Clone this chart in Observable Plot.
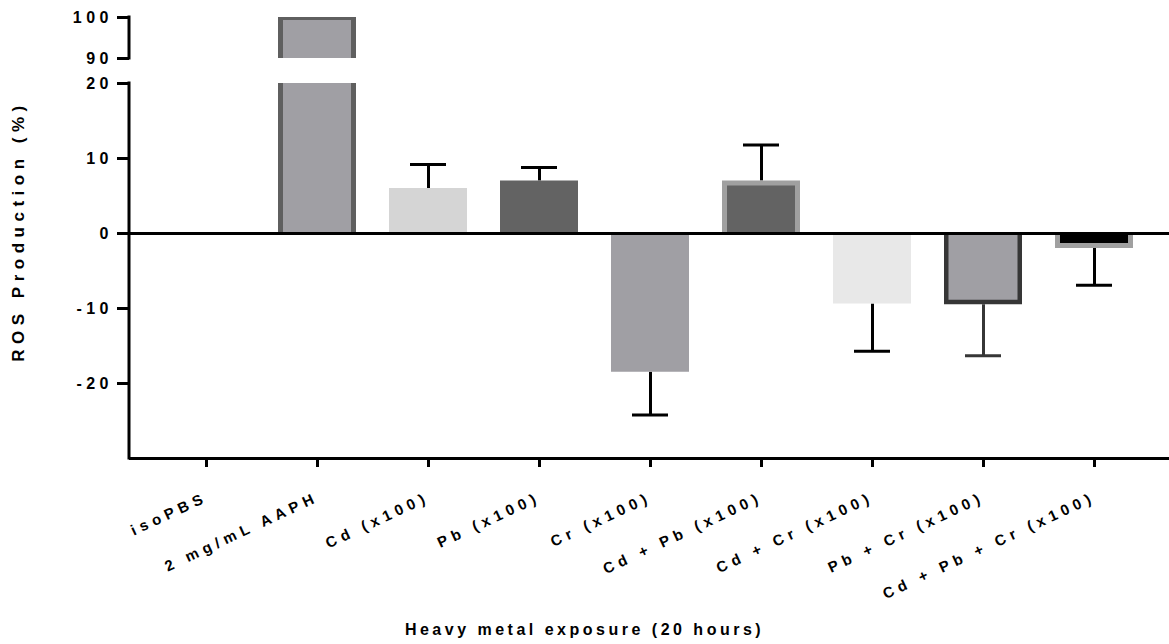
<!DOCTYPE html>
<html>
<head>
<meta charset="utf-8">
<script src="https://cdn.jsdelivr.net/npm/d3@7"></script>
<script src="https://cdn.jsdelivr.net/npm/@observablehq/plot@0.6"></script>
<style>
  html, body { margin: 0; padding: 0; background: #fff; }
  #chart svg { font-family: "Liberation Sans", Arial, Helvetica, sans-serif; font-weight: bold; }
  g[aria-label="x-axis tick label"] text { letter-spacing: 5px; }
  g[aria-label="y-axis tick label"] text { letter-spacing: 4.5px; }
</style>
</head>
<body>
<div id="chart"></div>
<script>
// Treatment groups and ROS production (mean, SD) in %
const groups = ["isoPBS", "2 mg/mL AAPH", "Cd (x100)", "Pb (x100)", "Cr (x100)",
                "Cd + Pb (x100)", "Cd + Cr (x100)", "Pb + Cr (x100)", "Cd + Pb + Cr (x100)"];
const meanROS = [0, 100, 6.0, 7.0, -18.5, 7.0, -9.4, -9.5, -2.0];
const sdROS   = [0, 0, 3.2, 1.8, 5.7, 4.8, 6.3, 6.8, 4.9];

// Broken y axis: a lower segment and an upper segment
const yLower = [-30, 20];
const yUpper = [90, 100];
const yTicks = [-20, -10, 0, 10, 20, 90, 100];

const xTitle = "Heavy metal exposure (20 hours)";
const yTitle = "ROS Production (%)";

// Appearance of each bar (fill, optional border colour and widths)
const barStyle = {
  "isoPBS":              {fill: "#a09fa4"},
  "2 mg/mL AAPH":        {fill: "#a09fa4", border: "#5f5f5f", side: 5, end: 3},
  "Cd (x100)":           {fill: "#d5d5d5"},
  "Pb (x100)":           {fill: "#636363"},
  "Cr (x100)":           {fill: "#a09fa4"},
  "Cd + Pb (x100)":      {fill: "#636363", border: "#a0a0a0", side: 5, end: 5},
  "Cd + Cr (x100)":      {fill: "#e8e8e8"},
  "Pb + Cr (x100)":      {fill: "#a09fa4", border: "#363636", side: 4.5, end: 4.5},
  "Cd + Pb + Cr (x100)": {fill: "#000000", border: "#a0a0a0", side: 5, end: 5}
};
const errColor = {"Pb + Cr (x100)": "#363636"};

// Piecewise y mapping: the lower segment keeps its units, the gap and the
// upper segment are rescaled (lower 7.5 px/unit, gap 25 px, upper 4.1 px/unit)
const lowerPx = 7.5, gapPx = 25, upperPx = 4.1;
function breakY(v) {
  if (v <= yLower[1]) return v;
  if (v >= yUpper[0]) return yLower[1] + (gapPx + (v - yUpper[0]) * upperPx) / lowerPx;
  return yLower[1] + ((v - yLower[1]) / (yUpper[0] - yLower[1])) * gapPx / lowerPx;
}

const rows = groups.map((g, i) => ({group: g, mean: meanROS[i], sd: sdROS[i]}));
const withErr = rows.filter(d => d.sd > 0);
const errEnd = d => d.mean + Math.sign(d.mean) * d.sd;
const errStroke = d => errColor[d.group] ?? "#000000";

// Inner fill of bordered bars: inset on the sides and on the end away from zero
const innerBars = rows
  .filter(d => barStyle[d.group].border)
  .map(d => {
    const s = barStyle[d.group];
    return Plot.barY([d], {
      x: "group", y1: 0, y2: "mean", fill: s.fill,
      insetLeft: s.side, insetRight: s.side,
      insetTop: d.mean > 0 ? s.end : 0,
      insetBottom: d.mean < 0 ? s.end : 0
    });
  });

// Vertical axis line, drawn as two pieces around the break
function axisSpine(index, scales, values, dims) {
  const g = d3.create("svg:g")
    .attr("stroke", "black").attr("stroke-width", 3).attr("stroke-linecap", "square");
  for (const [a, b] of [yLower, yUpper]) {
    g.append("line")
      .attr("x1", dims.marginLeft).attr("x2", dims.marginLeft)
      .attr("y1", scales.y(breakY(a))).attr("y2", scales.y(breakY(b)));
  }
  return g.node();
}

const chart = Plot.plot({
  width: 1169,
  height: 644,
  marginLeft: 129,
  marginRight: 0,
  marginTop: 17,
  marginBottom: 186,
  style: {color: "black", background: "white"},
  x: {domain: groups, range: [129, 1172], paddingInner: 0.294, paddingOuter: 0.308, label: null},
  y: {transform: breakY, domain: [breakY(yLower[0]), breakY(yUpper[1])], label: null},
  marks: [
    // error bars (one-sided, away from zero)
    Plot.ruleX(withErr, {x: "group", y1: "mean", y2: errEnd, stroke: errStroke, strokeWidth: 3}),
    Plot.tickY(withErr, {x: "group", y: errEnd, stroke: errStroke, strokeWidth: 3, insetLeft: 21, insetRight: 21}),
    // bars: outer shape in border colour, then inner fill
    Plot.barY(rows, {x: "group", y1: 0, y2: "mean", fill: d => barStyle[d.group].border ?? barStyle[d.group].fill}),
    ...innerBars,
    // white gap for the axis break
    Plot.rect([[yLower[1], yUpper[0]]], {y1: d => d[0], y2: d => d[1], fill: "white"}),
    // zero line and x axis line
    Plot.ruleY([0], {strokeWidth: 3}),
    Plot.ruleY([yLower[0]], {strokeWidth: 3}),
    axisSpine,
    Plot.axisY(yTicks, {tickSize: 12, tickPadding: 4.5, strokeWidth: 3, fontSize: 16, tickFormat: d => String(d), label: null}),
    Plot.axisX({tickSize: 9, tickPadding: 29, tickRotate: -25, strokeWidth: 3, fontSize: 15, label: null}),
    // axis titles
    Plot.text([yTitle], {text: d => d, frameAnchor: "left", textAnchor: "middle", rotate: -90, dx: -111, dy: -7, fontSize: 17, fontWeight: "bold"}),
    Plot.text([xTitle], {text: d => d, frameAnchor: "bottom", textAnchor: "middle", dx: -65, dy: 176, fontSize: 16, fontWeight: "bold"})
  ]
});

// letter spacing for the two axis titles
d3.select(chart).selectAll('g[aria-label="text"] text').each(function () {
  const t = d3.select(this);
  t.style("letter-spacing", t.text() === yTitle ? "5.5px" : "3.5px");
});

document.getElementById("chart").append(chart);
</script>
</body>
</html>
